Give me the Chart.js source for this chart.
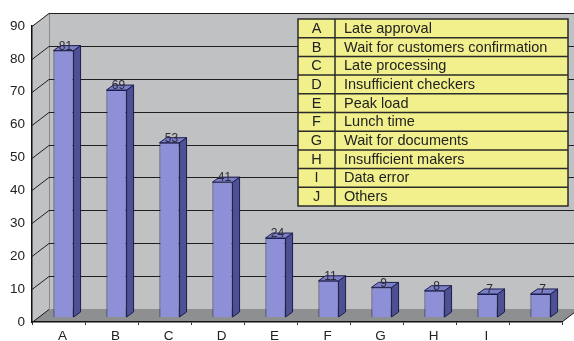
<!DOCTYPE html>
<html>
<head>
<meta charset="utf-8">
<script src="https://cdn.jsdelivr.net/npm/chart.js@4"></script>
<style>
  html, body { margin: 0; padding: 0; background: #ffffff; }
  #wrap { width: 574px; height: 341px; position: relative; }
</style>
</head>
<body>
<div id="wrap"><canvas id="c" width="574" height="341"></canvas></div>
<script>
// ---- data ----
const categories = ['A', 'B', 'C', 'D', 'E', 'F', 'G', 'H', 'I', 'J'];
const tickLabels = ['A', 'B', 'C', 'D', 'E', 'F', 'G', 'H', 'I', ''];
const descriptions = [
  'Late approval',
  'Wait for customers confirmation',
  'Late processing',
  'Insufficient checkers',
  'Peak load',
  'Lunch time',
  'Wait for documents',
  'Insufficient makers',
  'Data error',
  'Others'
];
const counts = [81, 69, 53, 41, 24, 11, 9, 8, 7, 7];
const yTicks = [0, 10, 20, 30, 40, 50, 60, 70, 80, 90];

// ---- styling ----
const FONT = '"Liberation Sans", Arial, sans-serif';
const DEPTH_X = 17, DEPTH_Y = -13;      // wall depth offset
const BAR_SHIFT_X = 5, BAR_SHIFT_Y = -5; // bars sit mid-depth
const BAR_DX = 7, BAR_DY = -5;           // bar 3D depth

const depthPlugin = {
  id: 'depth',
  beforeDraw(chart) {
    const ctx = chart.ctx;
    const ca = chart.chartArea;
    const y = chart.scales.y;
    const L = ca.left, R = ca.right;
    const yTop = y.getPixelForValue(yTicks[yTicks.length - 1]);
    const yBot = y.getPixelForValue(0);
    const W = chart.width + 20;
    ctx.save();
    // back wall
    ctx.fillStyle = '#c0c1c3';
    ctx.fillRect(L + DEPTH_X, yTop + DEPTH_Y, W - (L + DEPTH_X), yBot - yTop);
    // side wall
    ctx.beginPath();
    ctx.moveTo(L, yTop);
    ctx.lineTo(L + DEPTH_X, yTop + DEPTH_Y);
    ctx.lineTo(L + DEPTH_X, yBot + DEPTH_Y);
    ctx.lineTo(L, yBot);
    ctx.closePath();
    ctx.fill();
    // floor
    ctx.fillStyle = '#8e8f91';
    ctx.beginPath();
    ctx.moveTo(L, yBot);
    ctx.lineTo(L + DEPTH_X, yBot + DEPTH_Y);
    ctx.lineTo(R + DEPTH_X, yBot + DEPTH_Y);
    ctx.lineTo(R, yBot);
    ctx.closePath();
    ctx.fill();
    // wall left edge
    ctx.strokeStyle = '#8a8a8a';
    ctx.lineWidth = 1;
    ctx.beginPath();
    ctx.moveTo(L + DEPTH_X + 0.5, yTop + DEPTH_Y);
    ctx.lineTo(L + DEPTH_X + 0.5, yBot + DEPTH_Y);
    ctx.stroke();
    // grid lines
    ctx.strokeStyle = '#1e1e1e';
    ctx.lineWidth = 1;
    yTicks.forEach(v => {
      const py = Math.round(y.getPixelForValue(v)) + 0.5;
      ctx.beginPath();
      ctx.moveTo(L, py);
      ctx.lineTo(L + DEPTH_X, py + DEPTH_Y);
      if (v > 0) ctx.lineTo(W, py + DEPTH_Y);
      ctx.stroke();
    });
    // floor right edge
    ctx.beginPath();
    ctx.moveTo(R, yBot);
    ctx.lineTo(R + DEPTH_X, yBot + DEPTH_Y);
    ctx.stroke();
    ctx.restore();
  },
  beforeDatasetsDraw(chart) {
    chart.ctx.save();
    chart.ctx.translate(BAR_SHIFT_X, BAR_SHIFT_Y);
  },
  afterDatasetsDraw(chart) {
    const ctx = chart.ctx;
    const meta = chart.getDatasetMeta(0);
    meta.data.forEach((el, i) => {
      const p = el.getProps(['x', 'y', 'base', 'width'], true);
      const l = p.x - p.width / 2, r = p.x + p.width / 2;
      ctx.strokeStyle = '#1c1d4e';
      ctx.lineWidth = 1;
      // side
      ctx.fillStyle = '#4d5194';
      ctx.beginPath();
      ctx.moveTo(r, p.y);
      ctx.lineTo(r + BAR_DX, p.y + BAR_DY);
      ctx.lineTo(r + BAR_DX, p.base + BAR_DY);
      ctx.lineTo(r, p.base);
      ctx.closePath();
      ctx.fill();
      ctx.stroke();
      // top
      ctx.fillStyle = '#7b7fc6';
      ctx.beginPath();
      ctx.moveTo(l, p.y);
      ctx.lineTo(l + BAR_DX, p.y + BAR_DY);
      ctx.lineTo(r + BAR_DX, p.y + BAR_DY);
      ctx.lineTo(r, p.y);
      ctx.closePath();
      ctx.fill();
      ctx.stroke();
      // value label
      ctx.fillStyle = '#2a2a3a';
      ctx.font = '12px ' + FONT;
      ctx.textAlign = 'center';
      ctx.textBaseline = 'middle';
      ctx.fillText(String(counts[i]), p.x + 2, p.y - 4);
    });
    ctx.restore();
  },
  afterDraw(chart) {
    const ctx = chart.ctx;
    const x0 = 298, x1 = 568, xd = 335, yT = 19, yB = 206;
    const n = categories.length;
    const rh = (yB - yT) / n;
    ctx.save();
    ctx.fillStyle = '#f1f08d';
    ctx.fillRect(x0, yT, x1 - x0, yB - yT);
    ctx.strokeStyle = '#2b2b2b';
    ctx.lineWidth = 1.5;
    ctx.strokeRect(x0, yT, x1 - x0, yB - yT);
    ctx.beginPath();
    ctx.moveTo(xd, yT);
    ctx.lineTo(xd, yB);
    for (let i = 1; i < n; i++) {
      ctx.moveTo(x0, yT + rh * i);
      ctx.lineTo(x1, yT + rh * i);
    }
    ctx.stroke();
    ctx.fillStyle = '#222222';
    ctx.font = '14.5px ' + FONT;
    ctx.textBaseline = 'middle';
    for (let i = 0; i < n; i++) {
      const cy = yT + rh * i + rh / 2 + 0.5;
      ctx.textAlign = 'center';
      ctx.fillText(categories[i], (x0 + xd) / 2, cy);
      ctx.textAlign = 'left';
      ctx.fillText(descriptions[i], xd + 9, cy);
    }
    ctx.restore();
  }
};

new Chart(document.getElementById('c'), {
  type: 'bar',
  data: {
    labels: tickLabels,
    datasets: [{
      data: counts,
      backgroundColor: '#8d90d6',
      borderColor: '#1c1d4e',
      borderWidth: 1,
      barPercentage: 0.38,
      categoryPercentage: 1,
      clip: false
    }]
  },
  options: {
    responsive: false,
    devicePixelRatio: 1,
    animation: false,
    layout: { padding: { top: 26, right: 12, left: 0, bottom: 0 } },
    plugins: { legend: { display: false }, tooltip: { enabled: false } },
    scales: {
      x: {
        grid: { display: true, drawOnChartArea: false, drawTicks: true, tickLength: 3, color: '#333333', offset: true },
        border: { display: true, color: '#111111', width: 1.5 },
        ticks: { color: '#222222', font: { family: FONT, size: 13.5 }, padding: 3, labelOffset: 4, maxRotation: 0, autoSkip: false },
        afterFit(s) { s.height = 19; }
      },
      y: {
        min: 0, max: 90,
        grid: { display: false, drawTicks: false },
        border: { display: true, color: '#111111', width: 1.5 },
        ticks: { stepSize: 10, color: '#222222', font: { family: FONT, size: 13.5 }, padding: 7 },
        afterFit(s) { s.width = 32; }
      }
    }
  },
  plugins: [depthPlugin]
});
</script>
</body>
</html>
